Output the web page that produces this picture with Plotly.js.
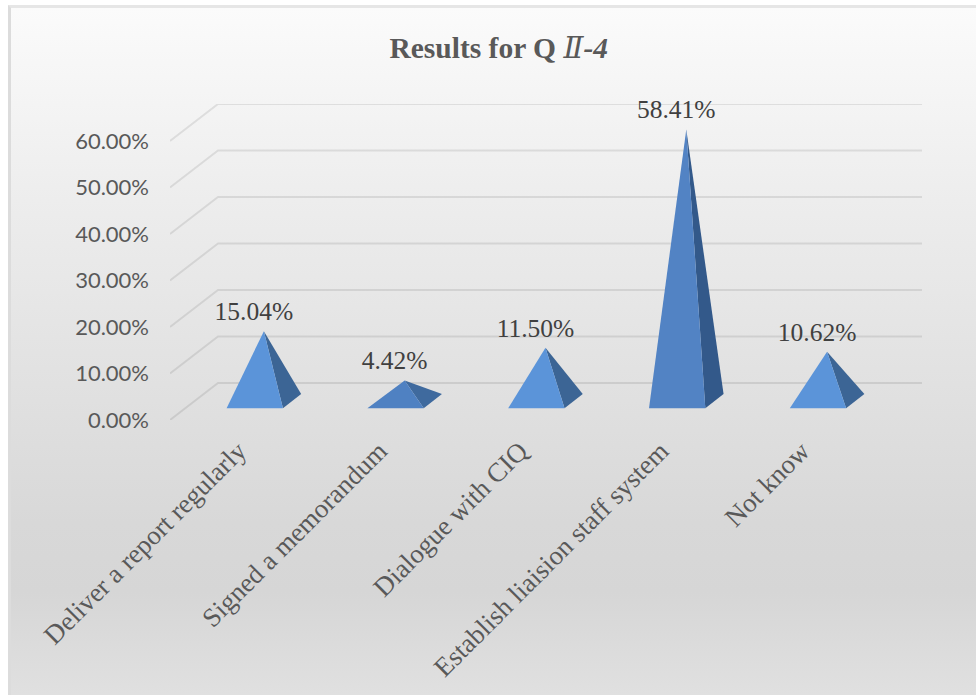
<!DOCTYPE html>
<html>
<head>
<meta charset="utf-8">
<script src="https://cdn.plot.ly/plotly-3.0.1.min.js"></script>
<style>
  html, body { margin: 0; padding: 0; background: #ffffff; }
  #frame {
    position: absolute; left: 8px; top: 5px; width: 968px; height: 690px;
    box-sizing: border-box; border-left: 3px solid #dcdcdc; border-top: 3px solid #e6e6e6;
    background: linear-gradient(to bottom, #fbfbfb 0%, #ececec 30%, #d8d8d8 75%, #d6d6d6 85%, #e0e0e0 100%);
  }
  #chart { position: absolute; left: 0; top: 0; width: 976px; height: 695px; }
</style>
</head>
<body>
<div id="frame"></div>
<div id="chart"></div>
<script>
// Survey answers for question II-4, in percent
const categories = ["Deliver a report regularly", "Signed a memorandum", "Dialogue with CIQ", "Establish liaision staff system", "Not know"];
const shares = [15.04, 4.42, 11.50, 58.41, 10.62];
const valueTicks = [0, 10, 20, 30, 40, 50, 60];

// Shading of each pyramid's two visible faces
const frontColors = ["#5b94d9", "#4f81c2", "#5b94d9", "#5283c4", "#5b94d9"];
const sideColors = ["#3c6595", "#3f6a9e", "#3c6595", "#33598a", "#3c6595"];

// Oblique projection: pushing a point back by 1 depth unit moves it this far on the axes
const wallDx = 48 / 140.8;   // category units
const wallDy = 37 / 4.65;    // percentage points
const halfWidth = 0.2;       // half of a pyramid's base, category units
const floorNear = 0.32;      // base front edge, as a fraction of the floor depth
const floorFar = 0.70;       // base back edge
const nudge = -1 / 140.8;    // pyramids sit a hair left of the category centre

const xMin = -0.5, xMax = categories.length - 0.5 + wallDx;
const project = (x, y, depth) => ({ x: x + depth * wallDx, y: y + depth * wallDy });

const traces = [];

// Side wall and back wall rules
const gridColor = "rgba(0,0,0,0.09)";
valueTicks.forEach(t => {
  const a = project(xMin, t, 0), b = project(xMin, t, 1), c = project(xMax - wallDx, t, 1);
  traces.push({ x: [a.x, b.x, c.x], y: [a.y, b.y, c.y], mode: "lines", hoverinfo: "skip",
    line: { color: gridColor, width: 2 }, showlegend: false, cliponaxis: false });
});

// Pyramids: front face plus the darker right-hand face
categories.forEach((name, i) => {
  const v = shares[i], c = i + nudge;
  const fl = project(c - halfWidth, 0, floorNear);
  const fr = project(c + halfWidth, 0, floorNear);
  const br = project(c + halfWidth, 0, floorFar);
  const apex = project(c, v, (floorNear + floorFar) / 2);
  traces.push({ x: [fr.x, br.x, apex.x, fr.x], y: [fr.y, br.y, apex.y, fr.y], mode: "lines",
    fill: "toself", fillcolor: sideColors[i], line: { width: 0, color: sideColors[i] },
    name: name, hoverinfo: "skip", showlegend: false });
  traces.push({ x: [fl.x, fr.x, apex.x, fl.x], y: [fl.y, fr.y, apex.y, fl.y], mode: "lines",
    fill: "toself", fillcolor: frontColors[i], line: { width: 0, color: frontColors[i] },
    name: name, hoverinfo: "skip", showlegend: false });
});

// Value labels sit up and to the left of each apex
traces.push({
  x: shares.map((v, i) => project(i, v, (floorNear + floorFar) / 2).x - 11 / 140.8),
  y: shares.map((v, i) => project(i, v, (floorNear + floorFar) / 2).y + 17.5 / 4.65),
  text: shares.map(v => v.toFixed(2) + "%"),
  mode: "text", textposition: "middle center", cliponaxis: false,
  textfont: { family: "Liberation Serif", size: 25.5, color: "#404040" },
  hoverinfo: "skip", showlegend: false
});

const layout = {
  width: 976, height: 695,
  margin: { l: 170, r: 54, t: 104, b: 275, pad: 0 },
  paper_bgcolor: "rgba(0,0,0,0)", plot_bgcolor: "rgba(0,0,0,0)",
  showlegend: false,
  title: {
    text: "Results for Q <i><span style=\"font-family:'DejaVu Serif';font-weight:400\">Ⅱ</span>-4</i>",
    font: { family: "Liberation Serif", size: 29.5, color: "#595959", weight: "bold" },
    x: 0.511, xanchor: "center", y: 0.932, yanchor: "middle"
  },
  xaxis: {
    range: [xMin, xMax], tickmode: "array",
    tickvals: categories.map((_, i) => i), ticktext: categories,
    tickangle: -45, ticks: "", showgrid: false, zeroline: false, showline: false,
    tickfont: { family: "Liberation Serif", size: 26.8, color: "#595959" },
    ticklabelstandoff: 9, ticklabelshift: -2, fixedrange: true
  },
  yaxis: {
    range: [0, 316 / 4.65], tickmode: "array", tickvals: valueTicks,
    ticktext: valueTicks.map(t => t.toFixed(2) + "%"),
    ticks: "", showgrid: false, zeroline: false, showline: false,
    tickfont: { family: "Lato", size: 22, color: "#595959" },
    ticklabelstandoff: 20, fixedrange: true
  }
};

Plotly.newPlot("chart", traces, layout, { displayModeBar: false, staticPlot: true });
</script>
</body>
</html>
